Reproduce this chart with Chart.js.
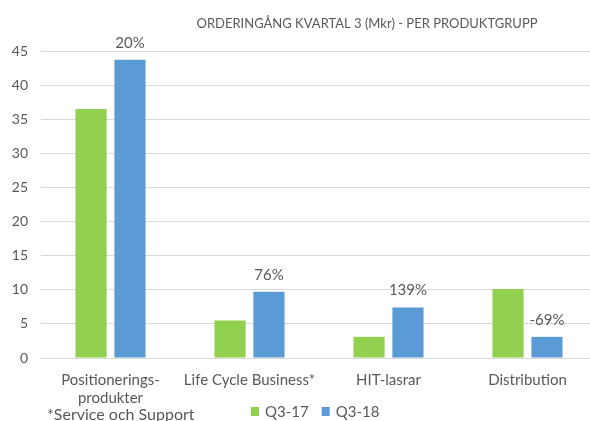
<!DOCTYPE html>
<html>
<head>
<meta charset="utf-8">
<script src="https://cdn.jsdelivr.net/npm/chart.js@4/dist/chart.umd.min.js"></script>
<style>
    html, body { margin: 0; padding: 0; background: #fff; overflow: hidden; }
    #wrap { position: relative; width: 600px; height: 421px; }
</style>
</head>
<body>
<div id="wrap"><canvas id="orderChart" width="600" height="421"></canvas></div>
<script>
// Données du graphique
const categories = [['Positionerings-', 'produkter'], 'Life Cycle Business*', 'HIT-lasrar', 'Distribution'];
const seriesNames = ['Q3-17', 'Q3-18'];
const q317 = [36.5, 5.5, 3.1, 10.1];
const q318 = [43.7, 9.7, 7.4, 3.1];
const changeLabels = ['20%', '76%', '139%', '-69%'];
const yTicks = [0, 5, 10, 15, 20, 25, 30, 35, 40, 45];

const titleText = 'ORDERINGÅNG KVARTAL 3 (Mkr) - PER PRODUKTGRUPP';
const footnote = '*Service och Support';

// Couleurs
const colors = {
    green: '#92D050',
    blue: '#5B9BD5',
    text: '#595959',
    grid: '#D9D9D9'
};
const fontFamily = "Lato, 'Open Sans', sans-serif";

// Titre, étiquettes de variation, légende et note en bas
const extrasPlugin = {
    id: 'extras',
    afterDatasetsDraw(chart) {
        const ctx = chart.ctx;
        ctx.save();
        ctx.fillStyle = colors.text;
        ctx.textBaseline = 'middle';

        // titre
        ctx.font = '13px ' + fontFamily;
        ctx.textAlign = 'center';
        ctx.fillText(titleText, 367, 24);

        // variations au-dessus des barres Q3-18
        ctx.font = '15px ' + fontFamily;
        const meta = chart.getDatasetMeta(1);
        meta.data.forEach((bar, i) => {
            ctx.fillText(changeLabels[i], bar.x, bar.y - 17);
        });

        // note
        ctx.textAlign = 'left';
        ctx.font = '16px ' + fontFamily;
        ctx.fillText(footnote, 47, 415);

        // légende
        ctx.font = '15px ' + fontFamily;
        let x = 251;
        chart.data.datasets.forEach(ds => {
            ctx.fillStyle = ds.backgroundColor;
            ctx.fillRect(x, 407, 8, 9);
            ctx.fillStyle = colors.text;
            ctx.fillText(ds.label, x + 14, 412);
            x += 14 + ctx.measureText(ds.label).width + 13;
        });
        ctx.restore();
    }
};

const ctx = document.getElementById('orderChart').getContext('2d');
new Chart(ctx, {
    type: 'bar',
    data: {
        labels: categories,
        datasets: [
            {
                label: seriesNames[0],
                data: q317,
                backgroundColor: colors.green,
                categoryPercentage: 0.56,
                barPercentage: 0.8
            },
            {
                label: seriesNames[1],
                data: q318,
                backgroundColor: colors.blue,
                categoryPercentage: 0.56,
                barPercentage: 0.8
            }
        ]
    },
    options: {
        responsive: false,
        animation: false,
        devicePixelRatio: 1,
        layout: {
            padding: { top: 51, right: 3, bottom: 0, left: 0 }
        },
        plugins: {
            legend: { display: false },
            title: { display: false },
            tooltip: { enabled: false }
        },
        scales: {
            y: {
                min: 0,
                max: 45,
                afterFit: s => { s.width = 41; },
                afterBuildTicks: s => { s.ticks = yTicks.map(v => ({ value: v })); },
                grid: {
                    color: colors.grid,
                    lineWidth: 1,
                    drawTicks: false
                },
                border: { display: false },
                ticks: {
                    padding: 13,
                    color: colors.text,
                    font: { family: fontFamily, size: 14 }
                }
            },
            x: {
                afterFit: s => { s.height = 63; },
                grid: { display: false, drawTicks: false },
                border: { display: false },
                ticks: {
                    padding: 13,
                    maxRotation: 0,
                    autoSkip: false,
                    color: colors.text,
                    font: { family: fontFamily, size: 15, lineHeight: 1.2 }
                }
            }
        }
    },
    plugins: [extrasPlugin]
});
</script>
</body>
</html>
